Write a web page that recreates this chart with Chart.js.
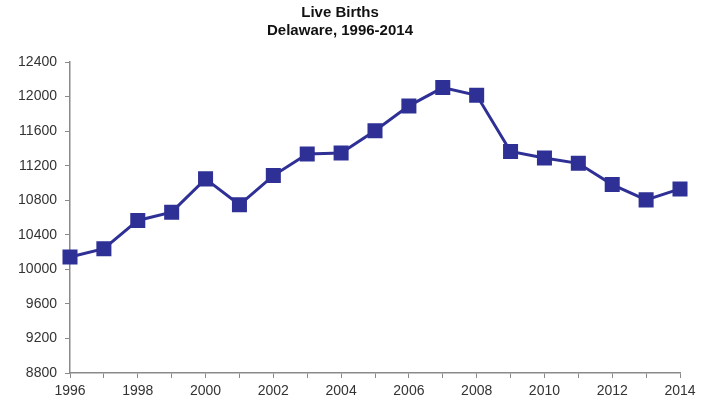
<!DOCTYPE html>
<html>
<head>
<meta charset="utf-8">
<script src="https://cdn.jsdelivr.net/npm/chart.js@4.4.1/dist/chart.umd.min.js"></script>
<style>
  html, body { margin:0; padding:0; background:#fff; }
  #wrap { width:708px; height:400px; }
</style>
</head>
<body>
<div id="wrap"><canvas id="ch"></canvas></div>
<script>
// data
var years  = [1996,1997,1998,1999,2000,2001,2002,2003,2004,2005,2006,2007,2008,2009,2010,2011,2012,2013,2014];
var births = [10142,10239,10566,10662,11047,10747,11085,11335,11346,11604,11892,12104,12015,11365,11289,11227,10981,10804,10931];
var titleLines = ['Live Births', 'Delaware, 1996-2014'];

var NAVY = '#2f3095';
var AXIS = '#8a8a8a';
var TICK = '#333';
var FONT = 'Liberation Sans, Arial';

var pts = years.map(function(y,i){ return {x:y, y:births[i]}; });

new Chart(document.getElementById('ch').getContext('2d'), {
  type:'line',
  data:{ datasets:[{ data:pts, borderColor:NAVY, backgroundColor:NAVY, borderWidth:3,
    pointStyle:'rect', pointRadius:8.5, pointHoverRadius:8.5, tension:0, clip:false }] },
  options:{
    responsive:true, maintainAspectRatio:false, animation:false,
    layout:{ padding:{ left:0, right:28, top:4, bottom:2 } },
    plugins:{
      legend:{ display:false }, tooltip:{ enabled:false },
      title:{ display:true, text:titleLines, color:'#111',
        font:{ family:FONT, size:15, weight:'bold', lineHeight:1.2 },
        padding:{ top:0, bottom:22 } }
    },
    scales:{
      x:{ type:'linear', min:1996, max:2014,
        afterFit:function(s){ s.height = 25; },
        border:{ color:AXIS, width:1.5 },
        grid:{ display:true, drawOnChartArea:false, color:AXIS, tickLength:5 },
        ticks:{ stepSize:1, autoSkip:false, maxRotation:0, color:TICK, padding:5,
          font:{ family:FONT, size:14 },
          callback:function(v){ return v%2===0 ? String(v) : ''; } } },
      y:{ min:8800, max:12400,
        afterFit:function(s){ s.width = 70; },
        border:{ color:AXIS, width:1.5 },
        grid:{ display:true, drawOnChartArea:false, color:AXIS, tickLength:5 },
        ticks:{ stepSize:400, color:TICK, padding:8,
          font:{ family:FONT, size:14 },
          callback:function(v){ return String(v); } } }
    }
  }
});
</script>
</body>
</html>
